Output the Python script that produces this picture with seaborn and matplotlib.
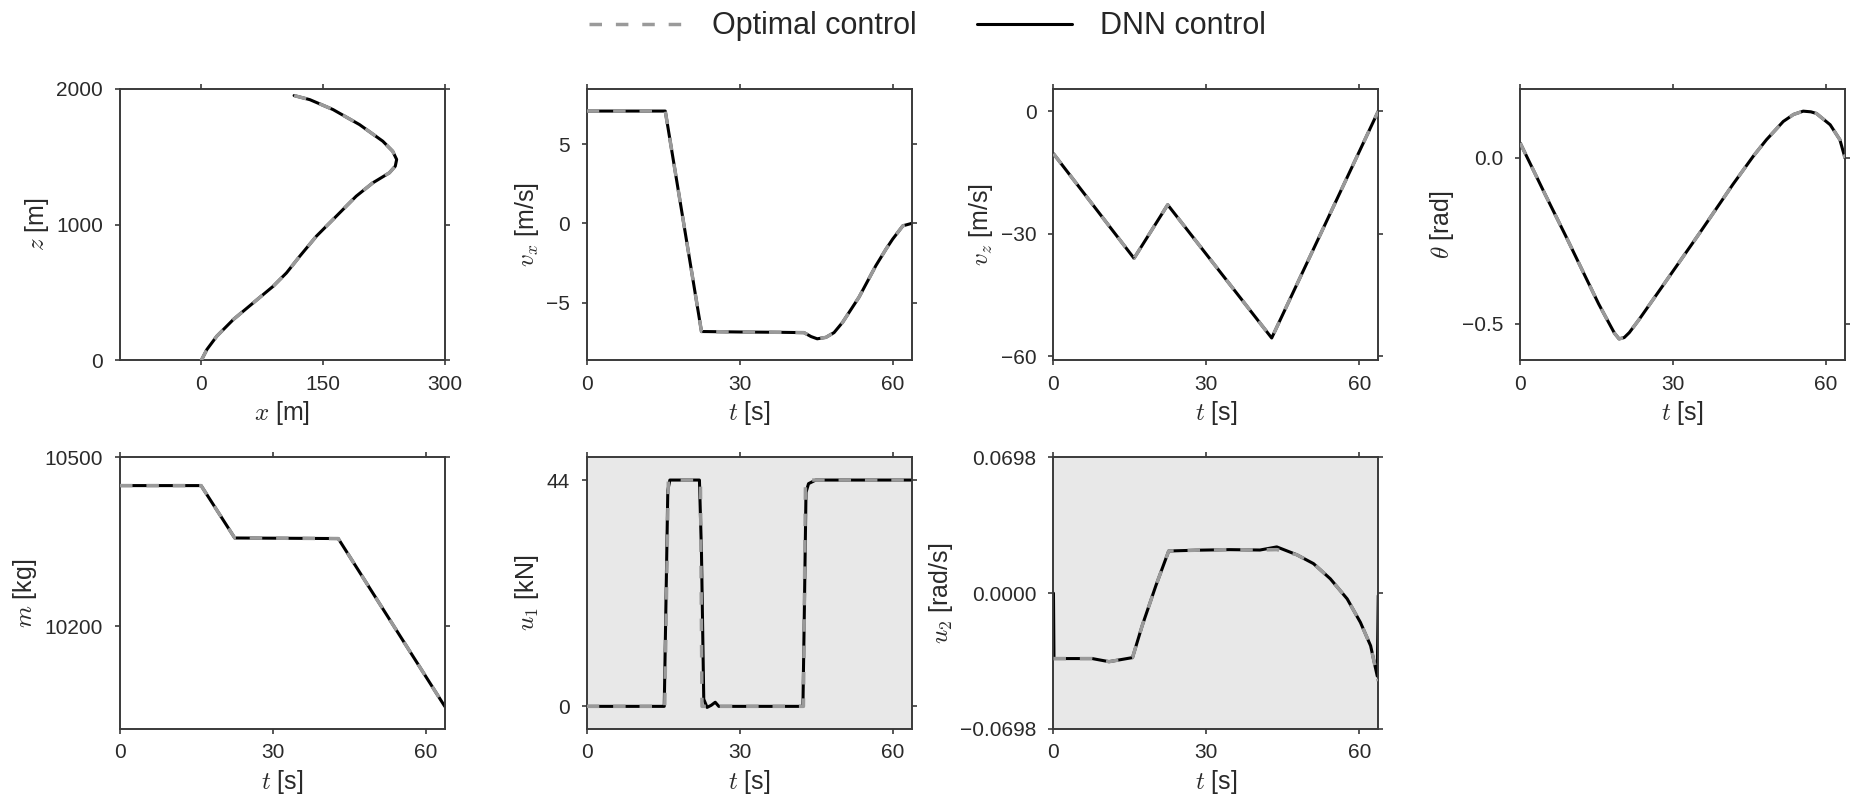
import numpy as np
import pandas as pd
import matplotlib
matplotlib.use("Agg")
import matplotlib.pyplot as plt
import seaborn as sns
from matplotlib.lines import Line2D
from matplotlib.ticker import FuncFormatter

# ---------------- data ----------------
# trajectory x-z
traj_x = [114.4, 133.7, 162.3, 195.0, 223.6, 235.8, 240.7, 239.0, 231.7, 211.3,
          190.9, 162.3, 141.8, 121.4, 105.0, 88.7, 64.2, 39.6, 19.2, 7.0, 0.0]
traj_z = [1951, 1921, 1848, 1737, 1615, 1541, 1480, 1431, 1382, 1308,
          1210, 1038, 915, 768, 645, 547, 425, 302, 179, 81, 0]

# horizontal velocity
t_vx = [0, 15.4, 22.5, 30, 38, 42.6, 44.0, 45.2, 46.9, 48.5, 50.2, 53.4, 56.7, 58.7, 60.0, 62.0, 63.7]
vx = [7.1, 7.1, -6.83, -6.86, -6.88, -6.9, -7.15, -7.29, -7.2, -6.9, -6.24, -4.66, -2.67, -1.62, -0.99, -0.15, 0.0]

# vertical velocity
t_vz = [0, 15.8, 22.4, 42.8, 63.7]
vz = [-10.4, -36.0, -22.9, -55.5, 0.0]

# pitch angle
t_th = [0, 4.9, 8.9, 12.8, 15.4, 17.4, 18.5, 19.4, 20.4, 21.4, 23.3, 28.6, 35.2, 41.7,
        45.7, 48.3, 51.6, 53.6, 55.5, 57.0, 58.1, 60.8, 62.7, 63.7]
theta = [0.045, -0.11, -0.234, -0.358, -0.44, -0.497, -0.528, -0.545, -0.541, -0.526, -0.487,
         -0.371, -0.226, -0.080, 0.005, 0.055, 0.110, 0.131, 0.141, 0.139, 0.134, 0.100, 0.055, 0.0]

# mass
t_m = [0, 15.9, 22.5, 42.8, 63.7]
mass = [10450, 10450, 10357, 10356, 10058]

# thrust u1 (optimal / DNN)
t_u1_opt = [0, 15.3, 16.0, 22.3, 22.6, 42.5, 42.9, 63.7]
u1_opt = [0, 0, 44, 44, 0, 0, 44, 44]
t_u1_dnn = [0, 15.2, 15.9, 16.3, 22.1, 22.5, 22.95, 23.6, 24.4, 25.2, 25.9, 42.4, 42.7,
            43.0, 43.5, 44.9, 63.7]
u1_dnn = [0, 0, 42, 44, 44, 30, 1.4, -0.2, 0.2, 0.8, 0, 0, 20, 41.6, 43.3, 44, 44]

# pitch rate u2 (optimal / DNN)
t_u2_opt = [0, 7.6, 10.9, 15.5, 17.4, 20.1, 22.6, 28.0, 34.5, 40.5, 43.8, 47.7,
            51.0, 54.3, 57.6, 60.2, 62.2, 63.7]
u2_opt = [-0.0336, -0.0336, -0.0352, -0.0331, -0.0167, 0.004, 0.0217, 0.0221, 0.0224,
          0.0222, 0.0224, 0.0198, 0.0152, 0.0074, -0.0029, -0.015, -0.027, -0.0452]
t_u2_dnn = [0, 0.1, 7.6, 10.9, 15.5, 17.4, 20.1, 22.6, 28.0, 34.5, 40.5, 43.8, 47.7,
            51.0, 54.3, 57.6, 60.2, 62.2, 63.5, 63.7]
u2_dnn = [0.0, -0.0336, -0.0336, -0.0352, -0.0331, -0.0167, 0.004, 0.0217, 0.0221, 0.0224,
          0.0222, 0.0238, 0.0198, 0.0152, 0.0074, -0.0029, -0.015, -0.027, -0.0426, -0.0012]

labels = ["Optimal control", "DNN control"]

# ---------------- style ----------------
sns.set_theme(style="ticks")
plt.rcParams['font.family'] = ['Liberation Sans', 'DejaVu Sans']
plt.rcParams['mathtext.fontset'] = 'cm'
plt.rcParams.update({
    'xtick.top': True, 'ytick.right': True,
    'xtick.direction': 'out', 'ytick.direction': 'out',
    'xtick.major.size': 3.6, 'ytick.major.size': 3.6,
    'xtick.major.width': 1.2, 'ytick.major.width': 1.2,
    'xtick.major.pad': 6.5, 'ytick.major.pad': 8.5,
    'axes.edgecolor': '#3a3a3a', 'axes.linewidth': 1.4,
    'xtick.color': '#3a3a3a', 'ytick.color': '#3a3a3a',
    'xtick.labelcolor': '#2a2a2a', 'ytick.labelcolor': '#2a2a2a',
    'axes.labelcolor': '#2a2a2a',
    'xtick.labelsize': 15, 'ytick.labelsize': 15, 'axes.labelsize': 18,
})

GRAY = '#9a9a9a'
DASH = (3.6, 4.0)


def fmt(spec):
    return FuncFormatter(lambda v, p: format(v, spec).replace('-', '\u2212'))


fig, axes = plt.subplots(2, 4, figsize=(18.55, 8.01), dpi=100)
fig.subplots_adjust(left=0.0647, right=0.9946, top=0.889, bottom=0.0899,
                    wspace=0.437, hspace=0.357)


def draw(ax, x_opt, y_opt, x_dnn=None, y_dnn=None, sort=True):
    if x_dnn is None:
        x_dnn, y_dnn = x_opt, y_opt
    sns.lineplot(x=x_dnn, y=y_dnn, ax=ax, sort=sort, estimator=None,
                 color='black', linewidth=2.2, zorder=2)
    sns.lineplot(x=x_opt, y=y_opt, ax=ax, sort=sort, estimator=None,
                 color=GRAY, linewidth=2.5, zorder=3)
    ax.lines[-1].set_dashes(DASH)


# x-z
ax = axes[0, 0]
draw(ax, traj_x, traj_z, sort=False)
ax.set_xlim(-100, 300); ax.set_ylim(0, 2000)
ax.set_xticks([0, 150, 300]); ax.set_yticks([0, 1000, 2000])
ax.set_xlabel(r'$x$ [m]'); ax.set_ylabel(r'$z$ [m]')

# vx
ax = axes[0, 1]
draw(ax, t_vx, vx)
ax.set_xlim(0, t_vx[-1]); ax.set_ylim(-8.66, 8.5)
ax.set_xticks([0, 30, 60]); ax.set_yticks([-5, 0, 5])
ax.set_xlabel(r'$t$ [s]'); ax.set_ylabel(r'$v_x$ [m/s]')

# vz
ax = axes[0, 2]
draw(ax, t_vz, vz)
ax.set_xlim(0, t_vz[-1]); ax.set_ylim(-61, 5.45)
ax.set_xticks([0, 30, 60]); ax.set_yticks([-60, -30, 0])
ax.set_xlabel(r'$t$ [s]'); ax.set_ylabel(r'$v_z$ [m/s]')

# theta
ax = axes[0, 3]
draw(ax, t_th, theta)
ax.set_xlim(0, t_th[-1]); ax.set_ylim(-0.61, 0.208)
ax.set_xticks([0, 30, 60]); ax.set_yticks([-0.5, 0.0])
ax.yaxis.set_major_formatter(fmt('.1f'))
ax.set_xlabel(r'$t$ [s]'); ax.set_ylabel(r'$\theta$ [rad]')

# mass
ax = axes[1, 0]
draw(ax, t_m, mass)
ax.set_xlim(0, t_m[-1]); ax.set_ylim(10018, 10500)
ax.set_xticks([0, 30, 60]); ax.set_yticks([10200, 10500])
ax.set_xlabel(r'$t$ [s]'); ax.set_ylabel(r'$m$ [kg]')

# u1
ax = axes[1, 1]
ax.set_facecolor('#e8e8e8')
draw(ax, t_u1_opt, u1_opt, t_u1_dnn, u1_dnn)
ax.set_xlim(0, t_u1_opt[-1]); ax.set_ylim(-4.4, 48.4)
ax.set_xticks([0, 30, 60]); ax.set_yticks([0, 44])
ax.set_xlabel(r'$t$ [s]'); ax.set_ylabel(r'$u_1$ [kN]')

# u2
ax = axes[1, 2]
ax.set_facecolor('#e8e8e8')
draw(ax, t_u2_opt, u2_opt, t_u2_dnn, u2_dnn)
ax.set_xlim(0, t_u2_opt[-1]); ax.set_ylim(-0.0698, 0.0698)
ax.set_xticks([0, 30, 60]); ax.set_yticks([-0.0698, 0.0, 0.0698])
ax.yaxis.set_major_formatter(fmt('.4f'))
ax.set_xlabel(r'$t$ [s]'); ax.set_ylabel(r'$u_2$ [rad/s]')

axes[1, 3].axis('off')

handles = [Line2D([], [], color=GRAY, linewidth=2.5, dashes=DASH),
           Line2D([], [], color='black', linewidth=2.2)]
fig.legend(handles, labels, loc='upper center', bbox_to_anchor=(0.5, 1.02), ncol=2,
           frameon=False, fontsize=22, handlelength=3.1, columnspacing=2.0, handletextpad=0.9)

fig.savefig('out.png', dpi=100)
